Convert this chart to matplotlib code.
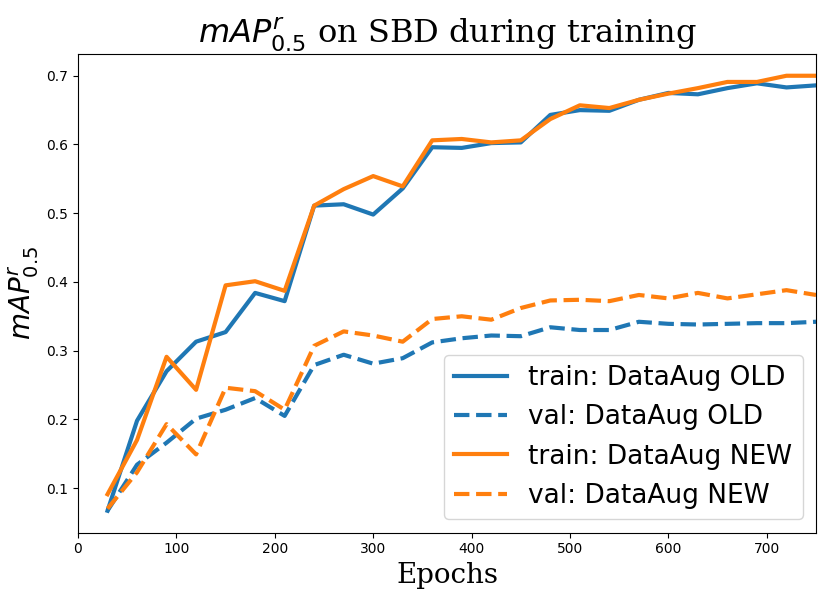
import matplotlib
matplotlib.use("Agg")
import matplotlib.pyplot as plt

epochs = [30, 60, 90, 120, 150, 180, 210, 240, 270, 300, 330, 360, 390,
          420, 450, 480, 510, 540, 570, 600, 630, 660, 690, 720, 750]

train_old = [0.067, 0.198, 0.270, 0.313, 0.327, 0.384, 0.372, 0.511, 0.513, 0.498,
             0.536, 0.596, 0.595, 0.602, 0.603, 0.643, 0.650, 0.649, 0.665, 0.675,
             0.673, 0.682, 0.689, 0.683, 0.686]
val_old = [0.067, 0.134, 0.166, 0.201, 0.214, 0.231, 0.205, 0.279, 0.294, 0.281,
           0.289, 0.312, 0.318, 0.322, 0.321, 0.334, 0.330, 0.330, 0.342, 0.339,
           0.338, 0.339, 0.340, 0.340, 0.342]
train_new = [0.091, 0.170, 0.291, 0.243, 0.395, 0.401, 0.387, 0.511, 0.535, 0.554,
             0.539, 0.606, 0.608, 0.603, 0.606, 0.637, 0.657, 0.653, 0.665, 0.674,
             0.682, 0.691, 0.691, 0.700, 0.700]
val_new = [0.070, 0.123, 0.193, 0.149, 0.246, 0.241, 0.214, 0.307, 0.328, 0.322,
           0.313, 0.346, 0.350, 0.345, 0.362, 0.373, 0.374, 0.372, 0.381, 0.376,
           0.384, 0.376, 0.382, 0.388, 0.381]

fig = plt.figure(figsize=(8.31, 6.12), dpi=100)
ax = fig.add_axes([78/831, 1 - 532.5/612, (816-78)/831, (532.5-54)/612])

ax.plot(epochs, train_old, color="#1f77b4", lw=3, ls="-", label="train: DataAug OLD")
ax.plot(epochs, val_old, color="#1f77b4", lw=3, ls="--", label="val: DataAug OLD")
ax.plot(epochs, train_new, color="#ff7f0e", lw=3, ls="-", label="train: DataAug NEW")
ax.plot(epochs, val_new, color="#ff7f0e", lw=3, ls="--", label="val: DataAug NEW")

ax.set_xlim(0, 750)
ax.set_title(r"$mAP^r_{0.5}$ on SBD during training", family="DejaVu Serif", fontsize=23)
ax.set_xlabel("Epochs", family="DejaVu Serif", fontsize=20)
ax.set_ylabel(r"$mAP^r_{0.5}$", fontsize=20)
ax.legend(loc="lower right", fontsize=19)

fig.savefig("out.png", dpi=100)
